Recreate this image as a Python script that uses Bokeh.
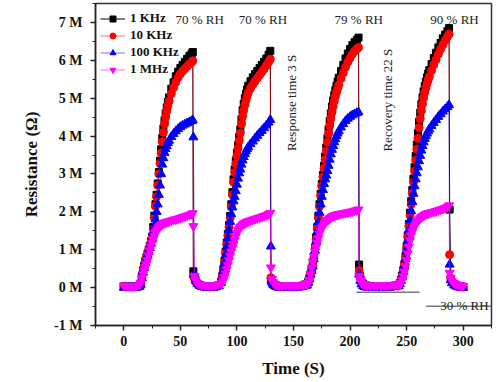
import math
from bokeh.plotting import figure
from bokeh.models import Range1d, FixedTicker, Label
from bokeh.embed import file_html
from bokeh.resources import INLINE

# ---------------- data (time in s, resistance in MΩ) ----------------
T_c1 = [0, 2, 4, 6, 8, 10, 12, 14] + list(range(15, 41)) + list(range(42, 61, 2)) + \
       [61, 61.5, 62.5, 63.5, 65, 67, 69, 72, 75, 78, 81, 84]
T_c2 = [86] + list(range(87, 111)) + list(range(112, 129, 2)) + \
       [129.5, 130, 131, 132, 133.5, 135, 137, 140, 143, 146, 149, 152, 155, 158, 160]
T_c3 = [162] + list(range(163, 191)) + list(range(192, 207, 2)) + \
       [207.5, 208, 209, 210, 211.5, 213, 215, 218, 221, 224, 227, 230, 233, 236, 239, 241]
T_c4 = [243] + list(range(244, 271)) + list(range(272, 287, 2)) + \
       [287.5, 288, 289, 290, 292, 294, 296, 298, 300]

k1_c1 = [0.03, 0.02, 0.02, 0.02, 0.02, 0.02, 0.03, 0.05,
         0.10, 0.30, 0.45, 0.58, 0.70, 0.80, 0.90, 1.00, 1.10, 1.22, 1.35, 1.60, 1.90, 2.20, 2.45, 2.75,
         3.05, 3.35, 3.65, 3.95, 4.20, 4.42, 4.60, 4.76, 4.90, 5.02,
         5.25, 5.42, 5.58, 5.70, 5.80, 5.88, 5.96, 6.04, 6.12, 6.18,
         6.22, 0.43,
         0.28, 0.18, 0.11, 0.07, 0.05, 0.03, 0.02, 0.02, 0.03, 0.06]
k10_c1 = [0.03, 0.02, 0.02, 0.02, 0.02, 0.02, 0.03, 0.05,
          0.10, 0.28, 0.42, 0.55, 0.68, 0.78, 0.88, 0.98, 1.08, 1.20, 1.33, 1.55, 1.85, 2.15, 2.40, 2.70,
          3.00, 3.28, 3.55, 3.85, 4.10, 4.32, 4.50, 4.66, 4.80, 4.92,
          5.12, 5.28, 5.42, 5.54, 5.64, 5.72, 5.78, 5.84, 5.90, 5.95,
          5.99, 0.30,
          0.24, 0.16, 0.10, 0.06, 0.04, 0.03, 0.02, 0.02, 0.03, 0.06]
k100_c1 = [0.0, 0.0, 0.0, 0.0, 0.0, 0.0, 0.01, 0.03,
           0.08, 0.25, 0.40, 0.52, 0.65, 0.75, 0.85, 0.95, 1.05, 1.16, 1.28, 1.45, 1.62, 1.80, 2.00, 2.20,
           2.45, 2.70, 3.00, 3.25, 3.42, 3.56, 3.66, 3.74, 3.82, 3.88,
           3.98, 4.06, 4.13, 4.19, 4.24, 4.28, 4.31, 4.34, 4.37, 4.40,
           4.42, 3.97,
           0.35, 0.20, 0.10, 0.05, 0.02, 0.0, 0.0, 0.0, 0.01, 0.04]
m1_c1 = [0.05, 0.04, 0.04, 0.04, 0.04, 0.04, 0.05, 0.08,
         0.12, 0.25, 0.35, 0.45, 0.55, 0.62, 0.72, 0.85, 0.98, 1.08, 1.18, 1.28, 1.36, 1.44, 1.50, 1.55,
         1.59, 1.62, 1.65, 1.67, 1.69, 1.71, 1.72, 1.73, 1.74, 1.75,
         1.77, 1.79, 1.80, 1.82, 1.84, 1.86, 1.88, 1.90, 1.92, 1.94,
         1.96, 1.62,
         0.30, 0.20, 0.12, 0.08, 0.06, 0.05, 0.05, 0.05, 0.06, 0.09]

k1_c2 = [0.15,
         0.30, 0.48, 0.70, 0.95, 1.19, 1.42, 1.65, 1.89, 2.20, 2.52, 2.86, 3.12, 3.35, 3.56, 3.76, 3.98,
         4.18, 4.45, 4.68, 4.85, 5.00, 5.12, 5.23, 5.33,
         5.45, 5.55, 5.64, 5.72, 5.80, 5.88, 5.96, 6.05, 6.15,
         6.25, 0.20,
         0.14, 0.10, 0.07, 0.05, 0.03, 0.02, 0.02, 0.02, 0.02, 0.02, 0.03, 0.05, 0.08]
k10_c2 = [0.14,
          0.28, 0.45, 0.66, 0.90, 1.14, 1.37, 1.60, 1.84, 2.14, 2.45, 2.78, 3.04, 3.27, 3.48, 3.68, 3.88,
          4.08, 4.32, 4.52, 4.68, 4.82, 4.94, 5.05, 5.14,
          5.26, 5.36, 5.45, 5.53, 5.61, 5.69, 5.77, 5.86, 5.95,
          6.03, 0.26,
          0.16, 0.11, 0.07, 0.05, 0.03, 0.02, 0.02, 0.02, 0.02, 0.02, 0.03, 0.05, 0.08]
k100_c2 = [0.13,
           0.27, 0.44, 0.64, 0.86, 1.08, 1.30, 1.52, 1.74, 1.94, 2.12, 2.28, 2.40, 2.55, 2.72, 2.88, 3.02,
           3.12, 3.25, 3.36, 3.45, 3.53, 3.60, 3.66, 3.71,
           3.79, 3.86, 3.94, 4.01, 4.08, 4.14, 4.21, 4.28, 4.36,
           4.43, 1.09,
           0.15, 0.08, 0.04, 0.02, 0.0, 0.0, 0.0, 0.0, 0.0, 0.0, 0.01, 0.03, 0.06]
m1_c2 = [0.10,
         0.13, 0.18, 0.27, 0.37, 0.48, 0.60, 0.72, 0.84, 0.95, 1.05, 1.15, 1.25, 1.35, 1.44, 1.51, 1.56,
         1.60, 1.63, 1.66, 1.68, 1.70, 1.72, 1.73, 1.75,
         1.77, 1.79, 1.81, 1.83, 1.85, 1.87, 1.89, 1.91, 1.94,
         1.97, 0.53,
         0.22, 0.14, 0.09, 0.07, 0.05, 0.05, 0.05, 0.05, 0.05, 0.05, 0.06, 0.07, 0.09]

k1_c3 = [0.08,
         0.15, 0.25, 0.36, 0.48, 0.60, 0.80, 1.05, 1.32, 1.60, 1.90, 2.20, 2.48, 2.74, 2.98, 3.22, 3.46,
         3.70, 3.94, 4.18, 4.40, 4.60, 4.78, 4.94, 5.08, 5.21, 5.33, 5.44, 5.54,
         5.72, 5.88, 6.05, 6.18, 6.30, 6.40, 6.48, 6.54,
         6.60, 0.61,
         0.30, 0.18, 0.11, 0.07, 0.05, 0.03, 0.02, 0.02, 0.02, 0.02, 0.02, 0.03, 0.05, 0.07]
k10_c3 = [0.08,
          0.14, 0.24, 0.35, 0.46, 0.58, 0.78, 1.02, 1.28, 1.56, 1.85, 2.14, 2.42, 2.68, 2.92, 3.15, 3.38,
          3.61, 3.84, 4.06, 4.27, 4.46, 4.63, 4.78, 4.92, 5.04, 5.15, 5.25, 5.35,
          5.52, 5.67, 5.82, 5.95, 6.06, 6.16, 6.24, 6.30,
          6.34, 0.45,
          0.26, 0.16, 0.10, 0.06, 0.04, 0.03, 0.02, 0.02, 0.02, 0.02, 0.02, 0.03, 0.05, 0.07]
k100_c3 = [0.06,
           0.13, 0.22, 0.33, 0.44, 0.56, 0.75, 0.98, 1.22, 1.48, 1.74, 1.98, 2.20, 2.40, 2.58, 2.74, 2.86,
           2.96, 3.08, 3.22, 3.38, 3.52, 3.64, 3.74, 3.84, 3.92, 4.00, 4.07, 4.13,
           4.23, 4.32, 4.40, 4.46, 4.51, 4.55, 4.58, 4.61,
           4.63, 0.35,
           0.18, 0.09, 0.04, 0.02, 0.0, 0.0, 0.0, 0.0, 0.0, 0.0, 0.0, 0.01, 0.03, 0.05]
m1_c3 = [0.08,
         0.12, 0.20, 0.35, 0.52, 0.68, 0.82, 0.95, 1.06, 1.18, 1.30, 1.42, 1.50, 1.57, 1.62, 1.67, 1.71,
         1.75, 1.78, 1.80, 1.83, 1.85, 1.87, 1.89, 1.90, 1.91, 1.92, 1.93, 1.94,
         1.95, 1.96, 1.97, 1.99, 2.00, 2.01, 2.03, 2.04,
         2.06, 0.30,
         0.20, 0.13, 0.09, 0.07, 0.05, 0.05, 0.05, 0.05, 0.05, 0.05, 0.05, 0.06, 0.07, 0.09]

k1_c4 = [0.06,
         0.12, 0.20, 0.32, 0.46, 0.62, 0.82, 1.08, 1.38, 1.68, 1.98, 2.28, 2.58, 2.88, 3.18, 3.48, 3.78,
         4.08, 4.38, 4.62, 4.84, 5.02, 5.18, 5.32, 5.44, 5.55, 5.65, 5.74,
         5.90, 6.06, 6.20, 6.34, 6.46, 6.58, 6.68, 6.77,
         6.85, 2.06,
         0.23, 0.15, 0.09, 0.06, 0.04, 0.03, 0.02]
k10_c4 = [0.06,
          0.11, 0.19, 0.30, 0.44, 0.60, 0.79, 1.04, 1.33, 1.62, 1.91, 2.20, 2.49, 2.78, 3.07, 3.36, 3.65,
          3.94, 4.22, 4.46, 4.67, 4.85, 5.01, 5.15, 5.27, 5.38, 5.48, 5.57,
          5.73, 5.88, 6.02, 6.16, 6.29, 6.41, 6.52, 6.62,
          6.69, 0.87,
          0.25, 0.16, 0.10, 0.06, 0.04, 0.03, 0.02]
k100_c4 = [0.05,
           0.10, 0.18, 0.29, 0.42, 0.58, 0.76, 1.00, 1.26, 1.52, 1.78, 2.02, 2.26, 2.48, 2.68, 2.86, 3.02,
           3.18, 3.34, 3.48, 3.62, 3.74, 3.84, 3.93, 4.00, 4.07, 4.13, 4.18,
           4.27, 4.35, 4.43, 4.51, 4.58, 4.65, 4.71, 4.77,
           4.82, 0.61,
           0.20, 0.12, 0.06, 0.03, 0.01, 0.0, 0.0]
m1_c4 = [0.06,
         0.08, 0.12, 0.20, 0.30, 0.42, 0.56, 0.72, 0.90, 1.08, 1.25, 1.38, 1.48, 1.56, 1.62, 1.68, 1.73,
         1.77, 1.80, 1.83, 1.86, 1.88, 1.90, 1.92, 1.94, 1.95, 1.96, 1.97,
         1.99, 2.00, 2.02, 2.04, 2.06, 2.08, 2.10, 2.13,
         2.17, 0.39,
         0.25, 0.17, 0.11, 0.08, 0.06, 0.05, 0.04]

time_s = T_c1 + T_c2 + T_c3 + T_c4
r_1khz = k1_c1 + k1_c2 + k1_c3 + k1_c4
r_10khz = k10_c1 + k10_c2 + k10_c3 + k10_c4
r_100khz = k100_c1 + k100_c2 + k100_c3 + k100_c4
r_1mhz = m1_c1 + m1_c2 + m1_c3 + m1_c4

series_labels = ["1 KHz", "10 KHz", "100 KHz", "1 MHz"]
x_ticks = [0, 50, 100, 150, 200, 250, 300]
y_ticks = [-1, 0, 1, 2, 3, 4, 5, 6, 7]
y_tick_labels = {t: f"{t} M" for t in y_ticks}

rh_labels = ["70 % RH", "70 % RH", "79 % RH", "90 % RH"]
rh_x = [67, 123, 207.7, 292.3]

# ---------------- figure ----------------
SERIF = "Liberation Serif"
p = figure(width=499, height=380, x_range=Range1d(-25, 325), y_range=Range1d(-1, 7.5),
           output_backend="svg", toolbar_location=None,
           min_border_left=95, min_border_right=8, min_border_top=3, min_border_bottom=54)
p.xgrid.visible = False
p.ygrid.visible = False
p.outline_line_color = "#333333"
p.outline_line_width = 1.5
p.background_fill_color = "white"

styles = [
    (r_1khz, "#000000", "square", 7, 1.0),
    (r_10khz, "#ff0000", "circle", 8, 0.55),
    (r_100khz, "#0000ff", "triangle", 9, 0.55),
    (r_1mhz, "#ff00ff", "inverted_triangle", 9, 0.6),
]
for (vals, col, mk, sz, la), lab in zip(styles, series_labels):
    p.line(time_s, vals, line_color=col, line_width=1, line_alpha=la, legend_label=lab)
    p.scatter(time_s, vals, marker=mk, size=sz, fill_color=col, line_color=col, legend_label=lab)

# annotation guide lines
p.segment(x0=[205.7, 267.3], y0=[-0.12, -0.49], x1=[261.4, 325], y1=[-0.12, -0.49],
          line_color="#333333", line_width=1)

for txt, xx in zip(rh_labels, rh_x):
    p.add_layout(Label(x=xx, y=7.09, text=txt, text_align="center", text_baseline="alphabetic",
                       text_font=SERIF, text_font_size="13px", text_color="#222222"))
p.add_layout(Label(x=301, y=-0.46, text="30 % RH", text_align="center", text_baseline="alphabetic",
                   text_font=SERIF, text_font_size="13px", text_color="#222222"))
p.add_layout(Label(x=148.3, y=4.92, text="Response time  3 S", angle=math.pi / 2,
                   text_align="center", text_baseline="middle",
                   text_font=SERIF, text_font_size="13px", text_color="#222222"))
p.add_layout(Label(x=232.8, y=4.95, text="Recovery time 22 S", angle=math.pi / 2,
                   text_align="center", text_baseline="middle",
                   text_font=SERIF, text_font_size="13px", text_color="#222222"))

# axes
p.xaxis.ticker = FixedTicker(ticks=x_ticks, minor_ticks=[-25, 25, 75, 125, 175, 225, 275, 325])
p.yaxis.ticker = FixedTicker(ticks=y_ticks, minor_ticks=[-0.5, 0.5, 1.5, 2.5, 3.5, 4.5, 5.5, 6.5, 7.5])
p.yaxis.major_label_overrides = y_tick_labels
p.xaxis.axis_label = "Time (S)"
p.yaxis.axis_label = "Resistance (Ω)"
for ax in (p.xaxis[0], p.yaxis[0]):
    ax.axis_line_width = 1.5
    ax.axis_line_color = "#222222"
    ax.major_tick_line_width = 1.5
    ax.major_tick_line_color = "#222222"
    ax.minor_tick_line_color = "#222222"
    ax.major_tick_in = 0
    ax.major_tick_out = 5
    ax.minor_tick_in = 0
    ax.minor_tick_out = 3
    ax.major_label_text_font = SERIF
    ax.major_label_text_font_style = "bold"
    ax.major_label_text_font_size = "14px"
    ax.major_label_text_color = "#111111"
    ax.axis_label_text_font = SERIF
    ax.axis_label_text_font_style = "bold"
    ax.axis_label_text_font_size = "17px"
    ax.axis_label_text_color = "#111111"
    ax.axis_label_standoff = 10
p.xaxis.major_label_standoff = 5
p.yaxis.major_label_standoff = 8

# legend
lg = p.legend[0]
lg.location = (5, 248)
lg.margin = 0
lg.padding = 0
lg.spacing = 1
lg.glyph_height = 15
lg.label_height = 15
lg.glyph_width = 25
lg.label_standoff = 5
lg.background_fill_alpha = 0
lg.border_line_color = None
lg.label_text_font = SERIF
lg.label_text_font_style = "bold"
lg.label_text_font_size = "13px"
lg.label_text_color = "#111111"

open("out.html", "w").write(file_html(p, INLINE))
